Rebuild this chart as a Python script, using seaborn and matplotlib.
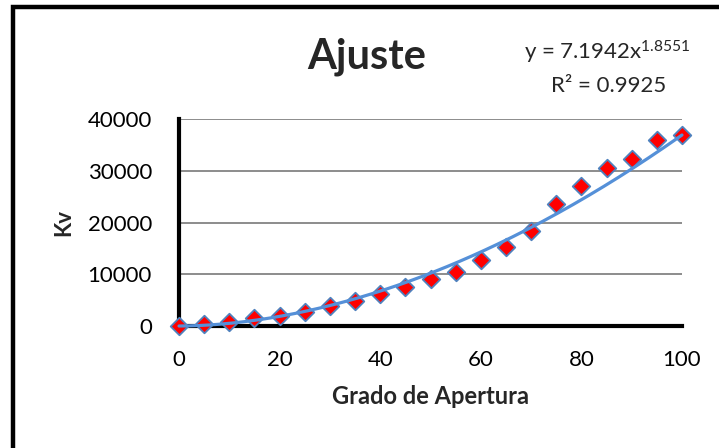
import matplotlib
matplotlib.use('Agg')
import matplotlib.pyplot as plt
import seaborn as sns
import numpy as np
import pandas as pd
from matplotlib.lines import Line2D

# Datos
grado = [0, 5, 10, 15, 20, 25, 30, 35, 40, 45, 50, 55, 60, 65, 70, 75, 80, 85, 90, 95, 100]
kv = [0, 320, 830, 1470, 1990, 2640, 3910, 4880, 6170, 7460, 9060, 10470, 12720,
      15290, 18380, 23500, 27040, 30570, 32300, 36030, 37000]

# Coeficientes del ajuste potencial (línea de tendencia)
coef_a = 7.1942
coef_b = 1.8551
r2 = 0.9925

sns.set_theme(style='white')
plt.rcParams['font.family'] = ['Lato', 'DejaVu Sans']
plt.rcParams['mathtext.fontset'] = 'custom'
plt.rcParams['mathtext.rm'] = 'Lato'
plt.rcParams['mathtext.default'] = 'regular'

df = pd.DataFrame({'Grado': grado, 'Kv': kv})
x_fit = np.linspace(0, 100, 200)
df_fit = pd.DataFrame({'Grado': x_fit, 'Kv': coef_a * x_fit ** coef_b})

fig = plt.figure(figsize=(7.19, 4.48), dpi=100)
fig.patch.set_facecolor('white')
# Borde negro (solo arriba e izquierda, el resto queda recortado)
fig.add_artist(Line2D([0.0174, 0.0174, 1.0], [0.0, 0.9833, 0.9833], transform=fig.transFigure,
                      color='black', linewidth=3.2, solid_joinstyle='miter'))

ax = fig.add_axes([0.249, 0.2723, 0.6995, 0.462])

sns.scatterplot(data=df, x='Grado', y='Kv', marker='D', s=80, color='#ff0000',
                edgecolor='#4f81bd', linewidth=1.3, ax=ax, zorder=3, clip_on=False)
sns.lineplot(data=df_fit, x='Grado', y='Kv', color='#5590d8', linewidth=2.3, ax=ax,
             zorder=4, clip_on=False)

ax.set_xlim(0, 100)
ax.set_ylim(0, 40000)
ax.set_xticks([0, 20, 40, 60, 80, 100])
ax.set_yticks([0, 10000, 20000, 30000, 40000])
ax.yaxis.grid(True, color='#8c8c8c', linewidth=1.4)
ax.set_axisbelow(True)
for side in ['top', 'right']:
    ax.spines[side].set_visible(False)
for side in ['left', 'bottom']:
    ax.spines[side].set_color('black')
    ax.spines[side].set_linewidth(3)
ax.tick_params(axis='both', direction='inout', length=12, width=2.2, colors='black',
               labelsize=16)
ax.tick_params(axis='x', pad=11)
ax.tick_params(axis='y', pad=13.5)

ax.set_xlabel('Grado de Apertura', fontsize=17, fontweight='bold', labelpad=11)
ax.set_ylabel('Kv', fontsize=16, fontweight='bold')
ax.yaxis.set_label_coords(-0.209, 0.5)

fig.text(0.510, 0.848, 'Ajuste', fontsize=30, fontweight='bold', ha='center', va='baseline')
fig.text(0.844, 0.868, 'y = 7.1942x$^{1.8551}$', fontsize=16, ha='center', va='baseline')
fig.text(0.846, 0.795, 'R² = 0.9925', fontsize=16, ha='center', va='baseline')

fig.savefig('out.png', dpi=100)
